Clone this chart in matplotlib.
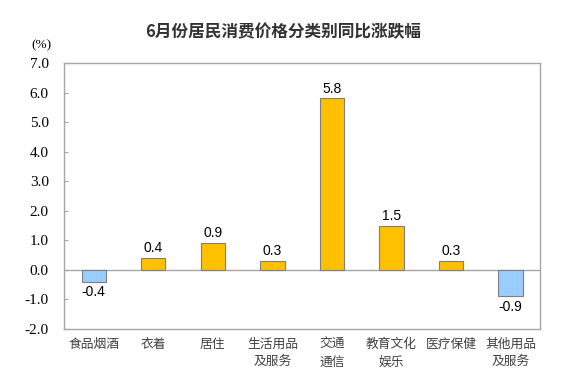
import matplotlib
matplotlib.use("Agg")
import matplotlib.pyplot as plt
import numpy as np

categories = ["食品烟酒", "衣着", "居住", "生活用品\n及服务", "交通\n通信",
              "教育文化\n娱乐", "医疗保健", "其他用品\n及服务"]
values = [-0.4, 0.4, 0.9, 0.3, 5.8, 1.5, 0.3, -0.9]
yticks = [-2.0, -1.0, 0.0, 1.0, 2.0, 3.0, 4.0, 5.0, 6.0, 7.0]

plt.rcParams['font.family'] = ['Noto Sans CJK SC', 'DejaVu Sans']


def main():
    fig = plt.figure(figsize=(5.74, 3.83), dpi=100)
    ax = fig.add_axes([0.1115, 0.141, 0.8295, 0.6945])

    x = np.arange(len(values))
    colors = ["#FFC000" if v >= 0 else "#99CCFF" for v in values]
    ax.bar(x, values, width=0.41, color=colors, edgecolor="#7f7f7f", linewidth=0.8, zorder=3)

    for xi, v in zip(x, values):
        off = 0.1 if v >= 0 else -0.12
        ax.text(xi, v + off, f"{v:.1f}", ha="center", va="bottom" if v >= 0 else "top",
                fontsize=10, family="Liberation Sans", color="#000000")

    ax.axhline(0, color="#a6a6a6", linewidth=1, zorder=2)
    ax.set_xlim(-0.5, len(values) - 0.5)
    ax.set_ylim(-2.0, 7.0)
    ax.set_yticks(yticks)
    ax.set_yticklabels([f"{t:.1f}" for t in yticks], family="Liberation Serif", fontsize=11)
    ax.tick_params(axis="y", direction="in", length=3, color="#a6a6a6", pad=11)
    ax.set_xticks([])
    for s in ax.spines.values():
        s.set_color("#a6a6a6")
        s.set_linewidth(1)

    for xi, c in zip(x, categories):
        ax.text(xi, -2.3, c, ha="center", va="top", fontsize=9.2, color="#404040",
                linespacing=1.45)

    fig.text(41.5 / 574, 1 - 45 / 383, "(%)", ha="center", va="center",
             family="Liberation Serif", fontsize=9.5)
    fig.text(283 / 574, 1 - 32 / 383, "6月份居民消费价格分类别同比涨跌幅", ha="center",
             va="center", fontsize=12, fontweight="bold", color="#333333")

    fig.savefig("out.png", dpi=100)


if __name__ == "__main__":
    main()
